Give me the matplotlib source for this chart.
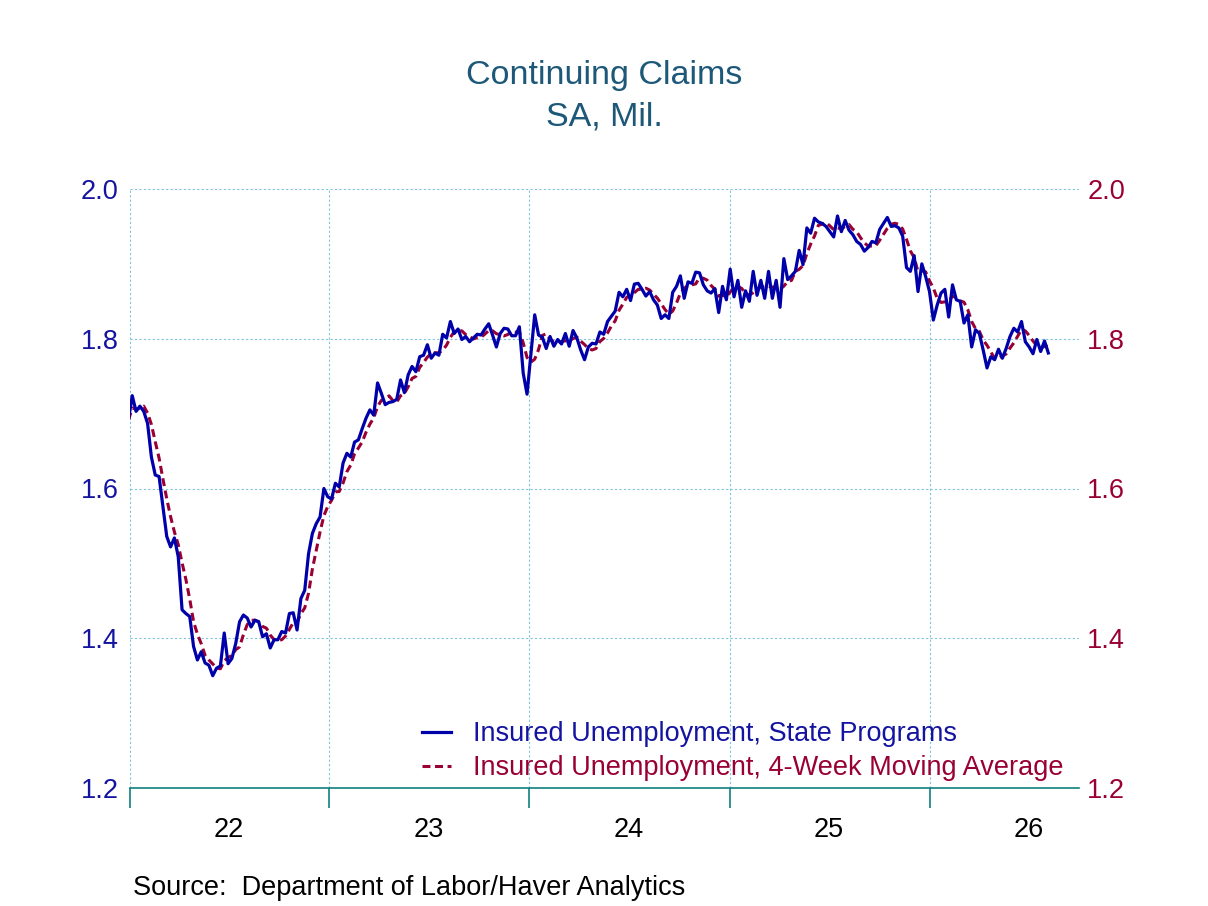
import matplotlib
matplotlib.use("Agg")
import matplotlib.pyplot as plt
import matplotlib.dates as mdates
import matplotlib.ticker as mticker
import pandas as pd

plt.rcParams['font.family'] = ['Liberation Sans', 'DejaVu Sans']

# ---- data (weekly, millions) ----
start_date = "2021-12-30"
claims = [
    # 2022
    1.691, 1.724, 1.703, 1.710, 1.703, 1.687, 1.642, 1.618, 1.616, 1.576,
    1.536, 1.522, 1.534, 1.509, 1.438, 1.433, 1.429, 1.389, 1.371, 1.382,
    1.367, 1.364, 1.350, 1.360, 1.363, 1.407, 1.366, 1.373, 1.393, 1.422,
    1.431, 1.427, 1.415, 1.424, 1.422, 1.402, 1.406, 1.387, 1.398, 1.398,
    1.409, 1.407, 1.433, 1.434, 1.411, 1.453, 1.464, 1.513, 1.540, 1.553,
    1.562,
    # 2023
    1.600, 1.589, 1.586, 1.607, 1.602, 1.634, 1.647, 1.642, 1.662, 1.665,
    1.680, 1.694, 1.705, 1.698, 1.741, 1.727, 1.712, 1.715, 1.716, 1.719,
    1.745, 1.728, 1.752, 1.763, 1.756, 1.776, 1.778, 1.792, 1.774, 1.781,
    1.778, 1.806, 1.801, 1.823, 1.807, 1.813, 1.799, 1.803, 1.796, 1.801,
    1.806, 1.805, 1.813, 1.820, 1.805, 1.789, 1.807, 1.814, 1.813, 1.804,
    1.804, 1.816,
    # 2024
    1.754, 1.726, 1.779, 1.832, 1.805, 1.802, 1.787, 1.803, 1.790, 1.799,
    1.793, 1.807, 1.790, 1.811, 1.801, 1.785, 1.772, 1.789, 1.794, 1.793,
    1.809, 1.806, 1.823, 1.830, 1.837, 1.862, 1.856, 1.866, 1.851, 1.873,
    1.874, 1.866, 1.857, 1.863, 1.852, 1.845, 1.827, 1.832, 1.827, 1.862,
    1.870, 1.884, 1.854, 1.876, 1.874, 1.889, 1.888, 1.872, 1.864, 1.861,
    1.867,
    # 2025
    1.835, 1.870, 1.852, 1.893, 1.856, 1.878, 1.842, 1.864, 1.850, 1.890,
    1.858, 1.878, 1.854, 1.890, 1.854, 1.878, 1.842, 1.907, 1.879, 1.884,
    1.890, 1.918, 1.899, 1.948, 1.941, 1.961, 1.956, 1.954, 1.950, 1.943,
    1.936, 1.964, 1.943, 1.958, 1.945, 1.939, 1.930, 1.926, 1.917, 1.922,
    1.930, 1.928, 1.946, 1.954, 1.962, 1.950, 1.951, 1.948, 1.937,
    # 2026
    1.895, 1.890, 1.911, 1.863, 1.900, 1.883, 1.863, 1.825, 1.845, 1.861,
    1.866, 1.829, 1.872, 1.852, 1.850, 1.821, 1.832, 1.789, 1.812, 1.807,
    1.785, 1.761, 1.776, 1.772, 1.786, 1.774, 1.787, 1.803, 1.814, 1.809,
    1.823, 1.796, 1.789, 1.780, 1.799, 1.783, 1.797, 1.781,
]
y_ticks = [1.2, 1.4, 1.6, 1.8, 2.0]
y_tick_labels = ["1.2", "1.4", "1.6", "1.8", "2.0"]
series_names = ["Insured Unemployment, State Programs",
                "Insured Unemployment, 4-Week Moving Average"]
title_lines = ["Continuing Claims", "SA, Mil."]
source_text = "Source:  Department of Labor/Haver Analytics"

dates = pd.date_range(start_date, periods=len(claims), freq="7D")
s = pd.Series(claims, index=dates)
ma4 = s.rolling(4, min_periods=1).mean()

BLUE = "#0000AA"
BLUE_TXT = "#1414A0"
RED = "#990033"
TEAL = "#1d5878"
GRID = "#80c4dc"
AXIS = "#108080"

fig = plt.figure(figsize=(12.08, 9.06), dpi=100)
ax = fig.add_axes([129.5 / 1208, 1 - 788 / 906, (1079 - 129.5) / 1208, (788 - 189) / 906])

ax.plot(s.index, s.values, color=BLUE, lw=2.3, label=series_names[0], zorder=4)
ax.plot(ma4.index, ma4.values, color=RED, lw=2.2, dashes=(2.6, 1.5),
        label=series_names[1], zorder=3)

ax.set_xlim(pd.Timestamp("2022-01-01"), pd.Timestamp("2026-10-01"))
ax.set_ylim(1.2, 2.0)

# x axis: year boundary ticks, labels at mid-year
ax.xaxis.set_major_locator(mdates.YearLocator())
ax.xaxis.set_major_formatter(mticker.NullFormatter())
ax.xaxis.set_minor_locator(mdates.MonthLocator(bymonth=7, bymonthday=1))
ax.xaxis.set_minor_formatter(mdates.DateFormatter("%y"))
ax.tick_params(axis="x", which="major", direction="out", length=14.5, width=1.2, color=AXIS)
ax.tick_params(axis="x", which="minor", length=0, pad=21, labelsize=19.5, labelcolor="black")

ax.set_yticks(y_ticks)
ax.set_yticklabels(y_tick_labels)
ax.tick_params(axis="y", length=0, pad=8, labelsize=19.5, labelcolor=BLUE_TXT)

for sp in ["top", "left", "right"]:
    ax.spines[sp].set_visible(False)
ax.spines["bottom"].set_color(AXIS)
ax.spines["bottom"].set_linewidth(1.2)

ax.grid(which="major", axis="x", color=GRID, lw=0.8, linestyle=(0, (2, 2)))
ax.grid(which="major", axis="y", color=GRID, lw=0.8, linestyle=(0, (2, 2)))
ax.set_axisbelow(True)

ax2 = ax.twinx()
ax2.set_ylim(1.2, 2.0)
ax2.set_yticks(y_ticks)
ax2.set_yticklabels(y_tick_labels)
ax2.tick_params(axis="y", length=0, pad=6, labelsize=19.5, labelcolor=RED)
for sp in ax2.spines.values():
    sp.set_visible(False)

leg = ax.legend(loc="upper left", bbox_to_anchor=(421.7 / 1208, 1 - 721 / 906),
                bbox_transform=fig.transFigure, frameon=False, fontsize=19.5,
                handlelength=1.1, handletextpad=0.8, labelspacing=0.3,
                borderpad=0, borderaxespad=0, labelcolor="linecolor")
leg.set_zorder(10)
leg.get_texts()[0].set_color(BLUE_TXT)
leg.get_texts()[1].set_color(RED)

fig.text(604 / 1208, 1 - 84 / 906, title_lines[0], ha="center", va="baseline",
         fontsize=24.5, color=TEAL)
fig.text(604 / 1208, 1 - 125 / 906, title_lines[1], ha="center", va="baseline",
         fontsize=24.5, color=TEAL)
fig.text(133 / 1208, 1 - 895 / 906, source_text, ha="left", va="baseline",
         fontsize=19.5, color="black")

fig.savefig("out.png", dpi=100)
